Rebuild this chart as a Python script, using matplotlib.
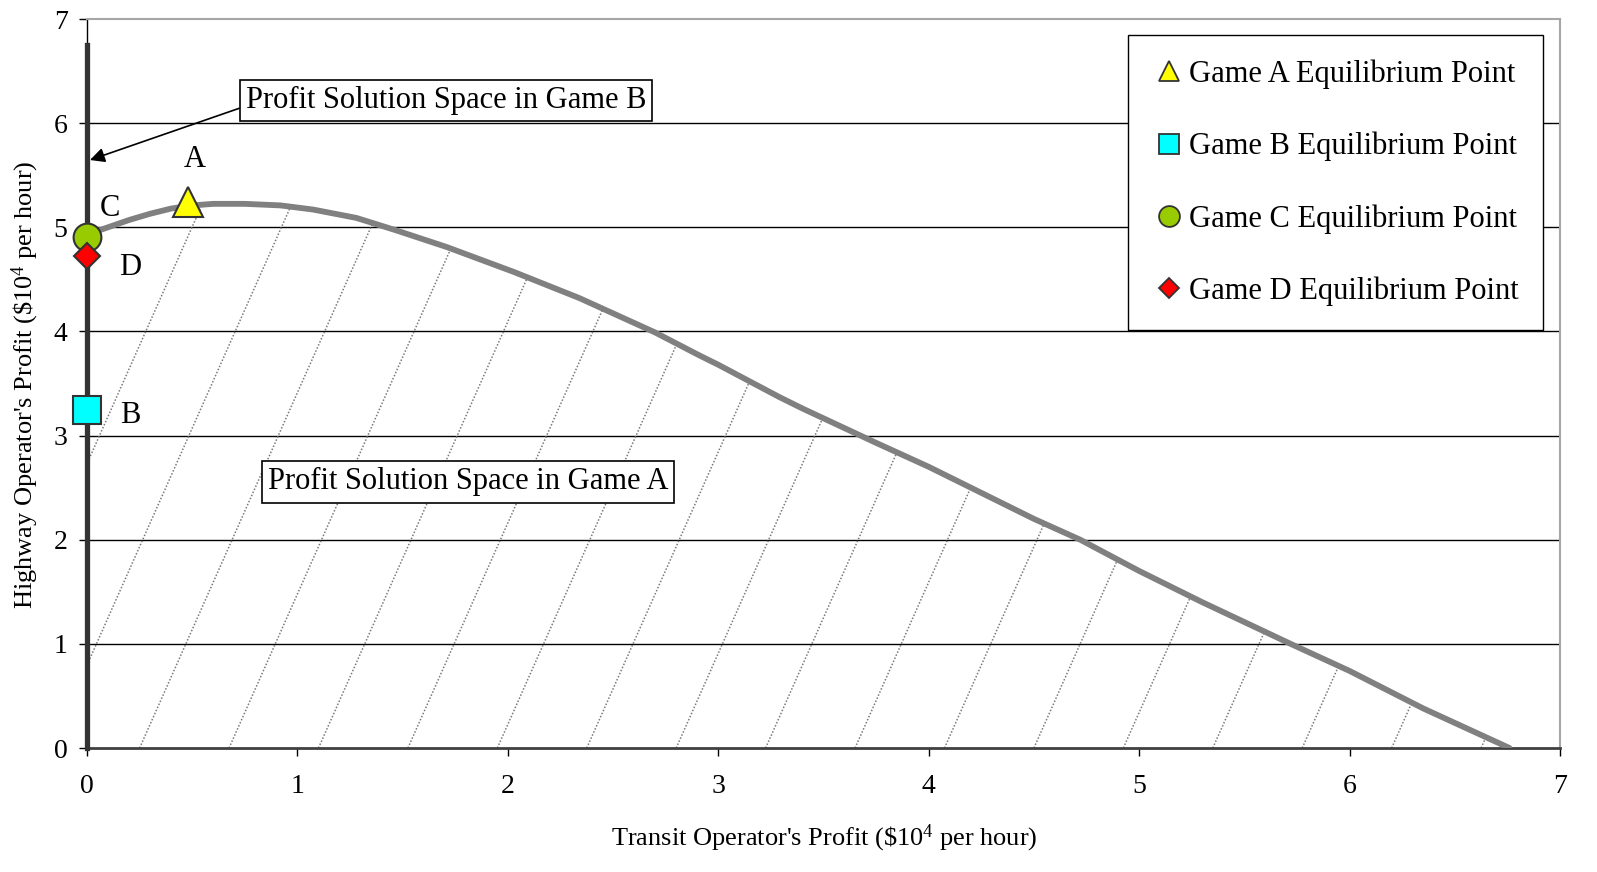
import numpy as np
import matplotlib
matplotlib.use('Agg')
import matplotlib.pyplot as plt
from matplotlib.patches import Polygon
from matplotlib.collections import LineCollection
from matplotlib.lines import Line2D

plt.rcParams['font.family'] = ['Liberation Serif', 'DejaVu Serif']
plt.rcParams['mathtext.fontset'] = 'custom'
plt.rcParams['mathtext.rm'] = 'Liberation Serif'
plt.rcParams['mathtext.it'] = 'Liberation Serif:italic'
plt.rcParams['mathtext.bf'] = 'Liberation Serif:bold'

# ---------------- data ----------------
curve_x = [0.0, 0.1, 0.2, 0.3, 0.4, 0.5, 0.6, 0.75, 0.92, 1.075, 1.28, 1.47, 1.71, 2.03,
           2.34, 2.7, 2.91, 3.0, 3.29, 3.4, 3.75, 4.0, 4.24, 4.5, 4.72, 5.0, 5.3, 5.72,
           6.0, 6.35, 6.76]
curve_y = [4.93, 5.00, 5.07, 5.13, 5.18, 5.21, 5.225, 5.225, 5.21, 5.17, 5.09, 4.97, 4.81,
           4.57, 4.32, 3.99, 3.77, 3.68, 3.37, 3.26, 2.93, 2.70, 2.46, 2.20, 2.00, 1.70,
           1.40, 1.00, 0.74, 0.38, 0.0]

gameB_x = [0.0, 0.0]
gameB_y = [0.0, 6.75]

point_labels = ["A", "B", "C", "D"]
point_x = [0.48, 0.0, 0.0, 0.0]
point_y = [5.24, 3.25, 4.91, 4.72]
legend_labels = ["Game A Equilibrium Point", "Game B Equilibrium Point",
                 "Game C Equilibrium Point", "Game D Equilibrium Point"]

x_ticks = [0, 1, 2, 3, 4, 5, 6, 7]
y_ticks = [0, 1, 2, 3, 4, 5, 6, 7]
grid_y = [1, 2, 3, 4, 5, 6]

# ---------------- styles ----------------
markers = ['^', 's', 'o', 'D']
colors = ['#FFFF00', '#00FFFF', '#99CC00', '#FF0000']
msizes = [21, 20, 20, 13.5]
leg_msizes = [15, 14.5, 15, 10.5]
label_pos = [(0.513, 5.65), (0.204, 3.19), (0.109, 5.185), (0.204, 4.61)]

fig = plt.figure(figsize=(15.97, 8.72), dpi=100)
ax = fig.add_axes([0.05448, 0.14220, 0.92235, 0.83601])
ax.set_xlim(0, 7)
ax.set_ylim(0, 7)

# grid lines
ax.hlines(grid_y, 0, 7, colors='black', linewidth=1.0, zorder=0.5)

# solution space A (hatched region under the curve)
poly = Polygon(np.column_stack([list(curve_x) + [0.0], list(curve_y) + [0.0]]),
               closed=True, facecolor='none', edgecolor='none')
ax.add_patch(poly)
k = 4.55
segs = [[(x0, 0.0), (x0 + 7.0 / k, 7.0)] for x0 in np.arange(0.25 - 0.425 * 4, 7.5, 0.425)]
lc = LineCollection(segs, colors='#7a7a7a', linewidths=1.1,
                    linestyles=[(0, (1.0, 1.2))], zorder=1)
ax.add_collection(lc)
lc.set_clip_path(poly)

# frontier curve
ax.plot(curve_x, curve_y, color='#808080', linewidth=4.2, zorder=3, solid_capstyle='round',
        solid_joinstyle='round')

# Game B solution space line
ax.plot(gameB_x, gameB_y, color='#333333', linewidth=3.8, zorder=3, clip_on=False)

# equilibrium points
for i in range(4):
    ax.plot(point_x[i], point_y[i], marker=markers[i], markersize=msizes[i],
            markerfacecolor=colors[i], markeredgecolor='#333333', markeredgewidth=1.5,
            linestyle='none', zorder=5, clip_on=False)
    ax.text(label_pos[i][0], label_pos[i][1], point_labels[i], fontsize=22,
            ha='center', va='center', zorder=6)

# annotations
ax.annotate("Profit Solution Space in Game B", xy=(0.014, 5.646), xytext=(1.706, 6.22),
            ha='center', va='center', fontsize=22, zorder=7,
            bbox=dict(boxstyle='square,pad=0.2', fc='white', ec='black', lw=1.2),
            arrowprops=dict(arrowstyle='-|>', color='black', lw=1.2, mutation_scale=22,
                            relpos=(0, 0.3), shrinkA=0, shrinkB=0))
ax.text(1.81, 2.555, "Profit Solution Space in Game A", ha='center', va='center',
        fontsize=22, zorder=7,
        bbox=dict(boxstyle='square,pad=0.2', fc='white', ec='black', lw=1.2))

# spines
ax.spines['left'].set_color('black')
ax.spines['left'].set_linewidth(1.0)
ax.spines['bottom'].set_color('#404040')
ax.spines['bottom'].set_linewidth(2.0)
for s in ['top', 'right']:
    ax.spines[s].set_color('#a6a6a6')
    ax.spines[s].set_linewidth(1.5)

ax.set_xticks(x_ticks)
ax.set_yticks(y_ticks)
ax.set_xticklabels([str(t) for t in x_ticks])
ax.set_yticklabels([str(t) for t in y_ticks])
ax.tick_params(axis='both', direction='out', length=6, width=1, colors='black', labelsize=20)
ax.tick_params(axis='x', pad=13)
ax.tick_params(axis='y', pad=8)

# axis labels
fig.text(824 / 1597, 1 - 838 / 872, "Transit Operator's Profit ($\\$10^4$ per hour)",
         ha='center', va='center', fontsize=19)
fig.text(25 / 1597, 1 - 385 / 872, "Highway Operator's Profit ($\\$10^4$ per hour)",
         ha='center', va='center', fontsize=19, rotation=90)

# legend
handles = [Line2D([], [], marker=markers[i], markersize=leg_msizes[i], linestyle='none',
                  markerfacecolor=colors[i], markeredgecolor='#333333', markeredgewidth=1.3)
           for i in range(4)]
leg = ax.legend(handles, legend_labels, loc='upper right', bbox_to_anchor=(0.9885, 0.978),
                borderaxespad=0, fontsize=22, frameon=True, fancybox=False,
                edgecolor='black', framealpha=1, labelspacing=1.4, handlelength=1.1,
                handletextpad=0.1, borderpad=0.8)
leg.get_frame().set_linewidth(1.0)
leg.set_zorder(10)

fig.savefig('out.png', dpi=100)
